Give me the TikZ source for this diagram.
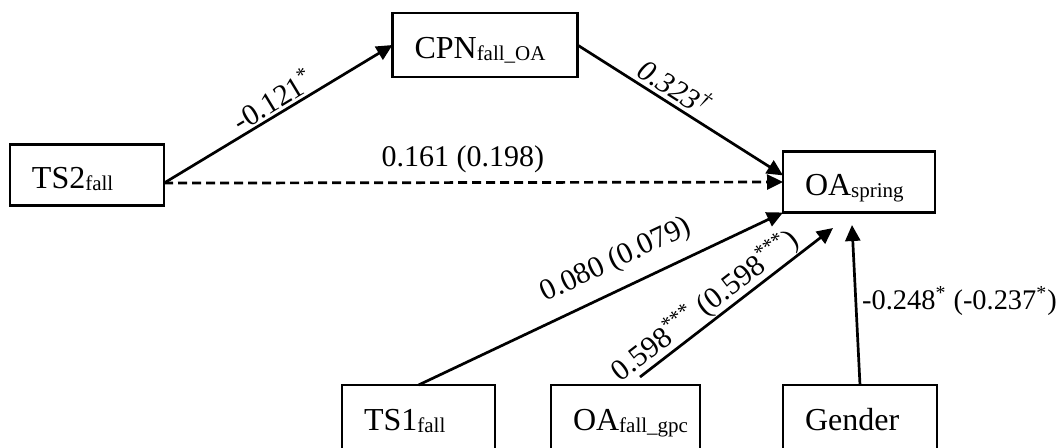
\documentclass[tikz,border=0pt]{standalone}
\usepackage{fontspec}
\setmainfont{Liberation Serif}
\usepackage{tikz}
\usetikzlibrary{arrows.meta,
                positioning}
\newcommand{\subtxt}[1]{\raisebox{-1pt}{\fontsize{10.5pt}{12pt}\selectfont #1}}

\begin{document}
\begin{tikzpicture}[x=0.5pt, y=-0.5pt,
   BOX/.style = {draw, line width=1.4pt, rectangle, align=left,
                 inner xsep=11pt, inner ysep=0pt, outer sep=0pt,
                 minimum height=30.5pt,
                 text height=13pt, text depth=0pt,
                 font=\fontsize{16pt}{19pt}\selectfont},
  BOXB/.style = {BOX, anchor=north, minimum height=35pt, text height=10pt},
   LBL/.style = {inner sep=1pt, font=\fontsize{15pt}{18pt}\selectfont},
   ARR/.style = {line width=1.35pt, -{Triangle[length=8pt, width=7.5pt]}}
                        ]
\clip (0,0) rectangle (1060,447);
% upper boxes
\node (ts2) [BOX, text width=55pt] at (87,175) {TS2\subtxt{fall}};
\node (cpn) [BOX, text width=70.5pt, minimum height=32pt] at (485,45) {CPN\subtxt{fall\_OA}};
\node (oas) [BOX, text width=54pt] at (859,182) {OA\subtxt{spring}};
% bottom row
\node (ts1) [BOXB, text width=54.5pt] at (418.5,385) {TS1\subtxt{fall}};
\node (gpc) [BOXB, text width=52.5pt, right=28pt of ts1] {OA\subtxt{fall\_gpc}};
\node (gen) [BOXB, text width=55pt, right=41.5pt of gpc] {Gender};
% paths
\draw[ARR] (ts2.-6) -- node[LBL, sloped, above=0pt, pos=0.51] {-0.121\textsuperscript{*}} (cpn.west);
\draw[ARR] (cpn.east) -- node[LBL, sloped, above=1pt, pos=0.43] {\itshape 0.323\textsuperscript{\textdagger}} (oas.175);
\draw[ARR, dash pattern=on 4.5pt off 2.5pt] (ts2.-6) -- node[LBL, above=3pt, pos=0.483] {0.161 (0.198)} (oas.west);
\draw[ARR] (ts1.north) -- node[LBL, sloped, above=5.5pt, pos=0.575] {0.080 (0.079)} (oas.south west);
\coordinate (gA) at (640,377);
\coordinate (gB) at (833,228);
\draw[ARR] (gA) -- node[LBL, sloped, above=-1pt, pos=0.39] {0.598\textsuperscript{***} (0.598\textsuperscript{***})} (gB);
\coordinate (gT) at (852,225);
\draw[ARR] (gen.north) -- node[LBL, right=1.5pt, pos=0.525, font=\fontsize{14.2pt}{17pt}\selectfont] {-0.248\textsuperscript{*} (-0.237\textsuperscript{*})} (gT);
\end{tikzpicture}
\end{document}
